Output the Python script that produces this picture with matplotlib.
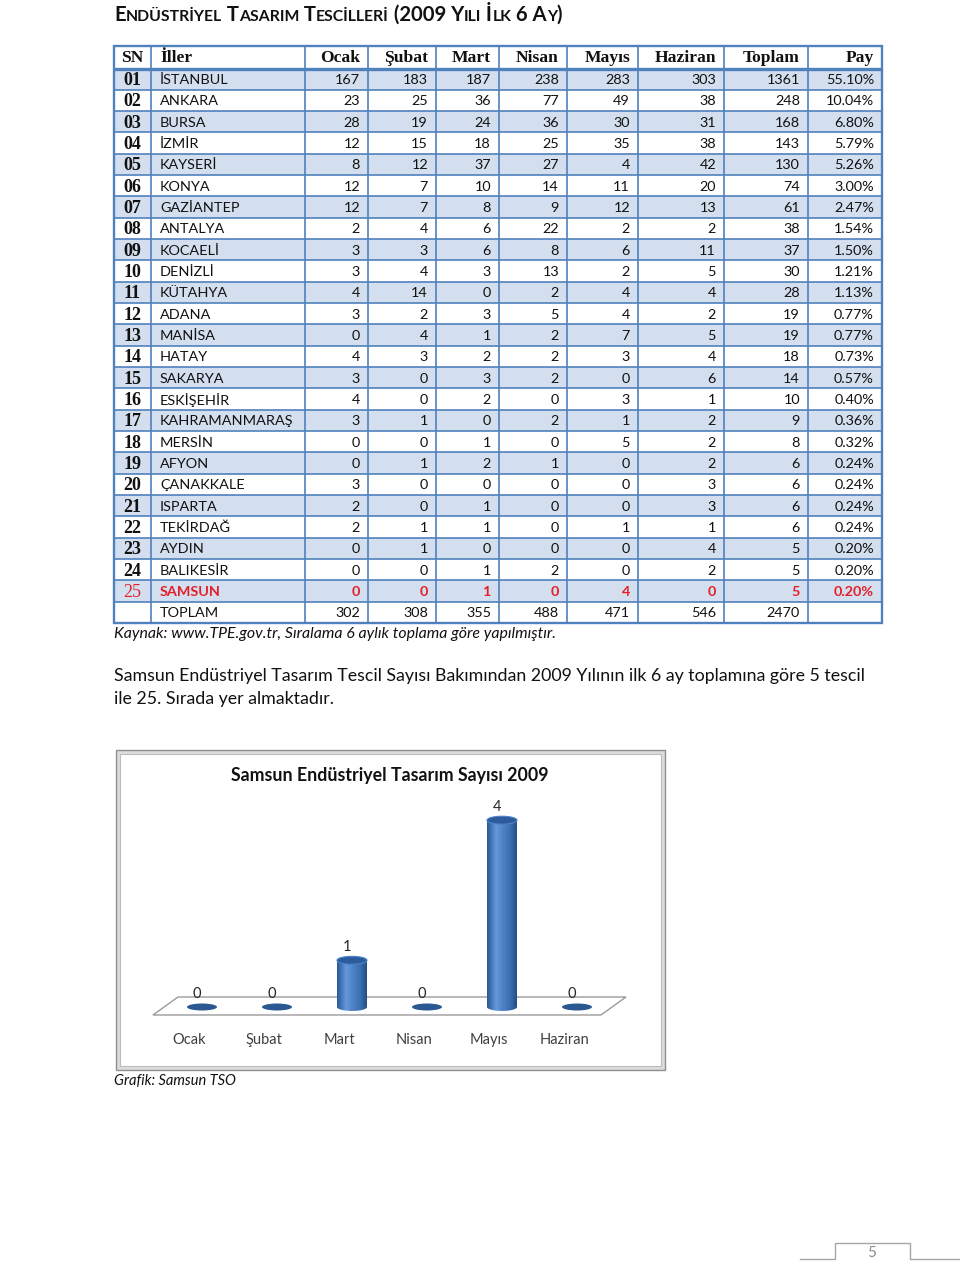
import matplotlib
matplotlib.use('Agg')
import matplotlib.pyplot as plt
import numpy as np
from matplotlib.patches import Rectangle, Ellipse, Polygon
from matplotlib.colors import LinearSegmentedColormap

# ---- data -------------------------------------------------------------
months = ['Ocak', 'Şubat', 'Mart', 'Nisan', 'Mayıs', 'Haziran']
header = ['SN', 'İller'] + months + ['Toplam', 'Pay']

sn = ['%02d' % i for i in range(1, 26)]
cities = ['İSTANBUL', 'ANKARA', 'BURSA', 'İZMİR', 'KAYSERİ', 'KONYA', 'GAZİANTEP',
          'ANTALYA', 'KOCAELİ', 'DENİZLİ', 'KÜTAHYA', 'ADANA', 'MANİSA', 'HATAY',
          'SAKARYA', 'ESKİŞEHİR', 'KAHRAMANMARAŞ', 'MERSİN', 'AFYON', 'ÇANAKKALE',
          'ISPARTA', 'TEKİRDAĞ', 'AYDIN', 'BALIKESİR', 'SAMSUN']
ocak = [167, 23, 28, 12, 8, 12, 12, 2, 3, 3, 4, 3, 0, 4, 3, 4, 3, 0, 0, 3, 2, 2, 0, 0, 0]
subat = [183, 25, 19, 15, 12, 7, 7, 4, 3, 4, 14, 2, 4, 3, 0, 0, 1, 0, 1, 0, 0, 1, 1, 0, 0]
mart = [187, 36, 24, 18, 37, 10, 8, 6, 6, 3, 0, 3, 1, 2, 3, 2, 0, 1, 2, 0, 1, 1, 0, 1, 1]
nisan = [238, 77, 36, 25, 27, 14, 9, 22, 8, 13, 2, 5, 2, 2, 2, 0, 2, 0, 1, 0, 0, 0, 0, 2, 0]
mayis = [283, 49, 30, 35, 4, 11, 12, 2, 6, 2, 4, 4, 7, 3, 0, 3, 1, 5, 0, 0, 0, 1, 0, 0, 4]
haziran = [303, 38, 31, 38, 42, 20, 13, 2, 11, 5, 4, 2, 5, 4, 6, 1, 2, 2, 2, 3, 3, 1, 4, 2, 0]
toplam = [1361, 248, 168, 143, 130, 74, 61, 38, 37, 30, 28, 19, 19, 18, 14, 10, 9, 8,
          6, 6, 6, 6, 5, 5, 5]
pay = [55.10, 10.04, 6.80, 5.79, 5.26, 3.00, 2.47, 1.54, 1.50, 1.21, 1.13, 0.77, 0.77,
       0.73, 0.57, 0.40, 0.36, 0.32, 0.24, 0.24, 0.24, 0.24, 0.20, 0.20, 0.20]
month_totals = [302, 308, 355, 488, 471, 546]
grand_total = 2470

month_cols = [ocak, subat, mart, nisan, mayis, haziran]
samsun_idx = cities.index('SAMSUN')
samsun_vals = [c[samsun_idx] for c in month_cols]

# ---- style ------------------------------------------------------------
SANS = 'Lato'
SERIF = 'Liberation Serif'
BLUE = '#4F81BD'
SHADE = '#D3DFEE'
RED = '#E3202A'
INK = '#111111'

fig = plt.figure(figsize=(9.6, 12.64), dpi=100)
page = fig.add_axes([0, 0, 1, 1])
page.set_xlim(0, 960)
page.set_ylim(1264, 0)
page.axis('off')
renderer = fig.canvas.get_renderer()


def fit(t, width):
    w = t.get_window_extent(renderer).width
    t.set_fontsize(t.get_fontsize() * width / w)


def small_caps(x, y, parts, size, ratio, width):
    # two passes: lay out, then rescale to the wanted width
    for scale in (1.0, None):
        if scale is None:
            scale = width / total
            for t in texts:
                t.remove()
        texts, cur = [], x
        for s, big in parts:
            fs = size * scale * (1 if big else ratio)
            t = page.text(cur, y, s, fontsize=fs, fontweight='bold', family=SANS,
                          va='baseline', ha='left', color=INK)
            cur += t.get_window_extent(renderer).width
            texts.append(t)
        total = cur - x


# ---- title ------------------------------------------------------------
title_parts = [('E', 1), ('NDÜSTRİYEL', 0), (' T', 1), ('ASARIM', 0), (' T', 1),
               ('ESCİLLERİ', 0), (' (2009 Y', 1), ('ILI', 0), (' İ', 1), ('LK', 0),
               (' 6 A', 1), ('Y', 0), (')', 1)]
small_caps(114, 21, title_parts, 15, 0.78, 449)

# ---- table ------------------------------------------------------------
col_edges = [114, 151, 305, 368, 436, 499, 567, 638, 724, 808, 882]
head_top, head_bot, row_h = 46, 68.5, 21.32
n_rows = len(cities) + 1

for r in range(len(cities)):
    if r % 2 == 0:
        page.add_patch(Rectangle((col_edges[0], head_bot + r * row_h),
                                 col_edges[-1] - col_edges[0], row_h,
                                 facecolor=SHADE, edgecolor='none', zorder=1))

table_bot = head_bot + n_rows * row_h
for r in range(1, n_rows):
    yy = head_bot + r * row_h
    page.plot([col_edges[0], col_edges[-1]], [yy, yy], color=BLUE, lw=1.2, zorder=2,
              solid_capstyle='butt')
for xx in col_edges[1:-1]:
    page.plot([xx, xx], [head_top, table_bot], color=BLUE, lw=1.2, zorder=2,
              solid_capstyle='butt')
page.plot([col_edges[0], col_edges[-1]], [head_bot, head_bot], color=BLUE, lw=2.4, zorder=3,
          solid_capstyle='butt')
page.add_patch(Rectangle((col_edges[0], head_top), col_edges[-1] - col_edges[0],
                         table_bot - head_top, facecolor='none', edgecolor=BLUE,
                         lw=1.7, zorder=3))


def cell(c, y, s, **kw):
    if c == 0:
        x, ha = (col_edges[0] + col_edges[1]) / 2, 'center'
    elif c == 1:
        x, ha = col_edges[1] + 9, 'left'
    else:
        x, ha = col_edges[c + 1] - 8, 'right'
    page.text(x, y, s, ha=ha, va='center', zorder=4, **kw)


hy = (head_top + head_bot) / 2
for c, h in enumerate(header):
    cell(c, hy + 1, h, family=SERIF, fontweight='bold', fontsize=12.6, color=INK)

for r in range(len(cities)):
    y = head_bot + (r + 0.5) * row_h + 1
    is_red = r == samsun_idx
    col = RED if is_red else INK
    bw = 'bold' if is_red else 'normal'
    cell(0, y + 0.5, sn[r], family=SERIF, fontweight='normal' if is_red else 'bold',
         fontsize=13, color=col)
    vals = [cities[r]] + [str(m[r]) for m in month_cols] + [str(toplam[r]), '%.2f%%' % pay[r]]
    for c, v in enumerate(vals, start=1):
        cell(c, y, v, family=SANS, fontsize=10.4, color=col, fontweight=bw)

y = head_bot + (n_rows - 0.5) * row_h + 1
cell(1, y, 'TOPLAM', family=SANS, fontsize=10.4, color=INK)
for c, v in enumerate(month_totals + [grand_total], start=2):
    cell(c, y, str(v), family=SANS, fontsize=10.4, color=INK)

t = page.text(114, 634, 'Kaynak: www.TPE.gov.tr, Sıralama 6 aylık toplama göre yapılmıştır.',
              family=SANS, style='italic', fontsize=10, va='center', color=INK)
fit(t, 441)

# ---- paragraph --------------------------------------------------------
t = page.text(114, 676, 'Samsun Endüstriyel Tasarım Tescil Sayısı Bakımından 2009 Yılının '
              'ilk 6 ay toplamına göre 5 tescil', family=SANS, fontsize=12.5,
              va='center', color=INK)
fit(t, 752)
page.text(114, 699, 'ile 25. Sırada yer almaktadır.', family=SANS, fontsize=t.get_fontsize(),
          va='center', color=INK)

# ---- chart frame ------------------------------------------------------
page.add_patch(Rectangle((116, 750), 549, 320, facecolor='#DCDCDC', edgecolor='#8F8F8F', lw=1))
page.add_patch(Rectangle((120, 754), 541, 312, facecolor='white', edgecolor='#BDBDBD', lw=0.8))
t = page.text(390, 776, 'Samsun Endüstriyel Tasarım Sayısı 2009', family=SANS,
              fontweight='bold', fontsize=12.5, ha='center', va='center', color=INK)
fit(t, 316)
page.text(114, 1081, 'Grafik: Samsun TSO', family=SANS, style='italic', fontsize=10.5,
          va='center', color=INK)

# ---- chart ------------------------------------------------------------
X0, X1, Y0, Y1 = 130, 650, 790, 1060
PX0, PXS, PY0, PYS = 202, 75, 1007, 46.7
ax = fig.add_axes([X0 / 960, 1 - Y1 / 1264, (X1 - X0) / 960, (Y1 - Y0) / 1264])
ax.patch.set_visible(False)
ax.axis('off')

floor = [(-0.32, 0.214), (5.653, 0.214), (5.32, -0.171), (-0.653, -0.171)]
ax.add_patch(Polygon(floor, closed=True, facecolor='white', edgecolor='#9A9A9A', lw=1))

cyl = LinearSegmentedColormap.from_list('cyl', [(0, '#2A5896'), (0.3, '#6599DA'),
                                               (0.5, '#5085CA'), (0.8, '#3A6DAE'),
                                               (1, '#244D86')])
grad = np.linspace(0, 1, 64).reshape(1, -1)
w, eh = 0.4, 0.17
for i, v in enumerate(samsun_vals):
    if v > 0:
        tt = np.linspace(np.pi, 2 * np.pi, 40)
        outline = [(i - w / 2, v)] + list(zip(i + w / 2 * np.cos(tt), eh / 2 * np.sin(tt))) + \
                  [(i + w / 2, v)]
        clip = Polygon(outline, closed=True, transform=ax.transData, facecolor='none',
                       edgecolor='none')
        ax.add_patch(clip)
        im = ax.imshow(grad, cmap=cyl, extent=(i - w / 2, i + w / 2, -eh / 2, v),
                       aspect='auto', interpolation='bilinear', zorder=2)
        im.set_clip_path(clip)
        ax.add_patch(Ellipse((i, v), w, eh, facecolor='#2C5C9C', edgecolor='#4F83C6',
                             lw=0.8, zorder=3))
    else:
        ax.add_patch(Ellipse((i, 0), w, 0.15, facecolor='#2B5891', edgecolor='none', zorder=3))
    ax.text(i - 0.07, v + 0.28, str(v), ha='center', va='center', family=SANS,
            fontsize=10.5, color='#262626')
    ax.text(i - 0.173, (PY0 - 1040) / PYS, months[i], ha='center', va='center',
            family=SANS, fontsize=10.5, color='#404040')

ax.set_xlim((X0 - PX0) / PXS, (X1 - PX0) / PXS)
ax.set_ylim((PY0 - Y1) / PYS, (PY0 - Y0) / PYS)

# ---- page number ------------------------------------------------------
page.plot([800, 835, 835, 910, 910, 960], [1259, 1259, 1243, 1243, 1259, 1259],
          color='#A6A6A6', lw=1)
page.text(872, 1253, '5', ha='center', va='center', family=SANS, fontsize=11,
          color='#8C8C8C')

fig.savefig('out.png', dpi=100)
